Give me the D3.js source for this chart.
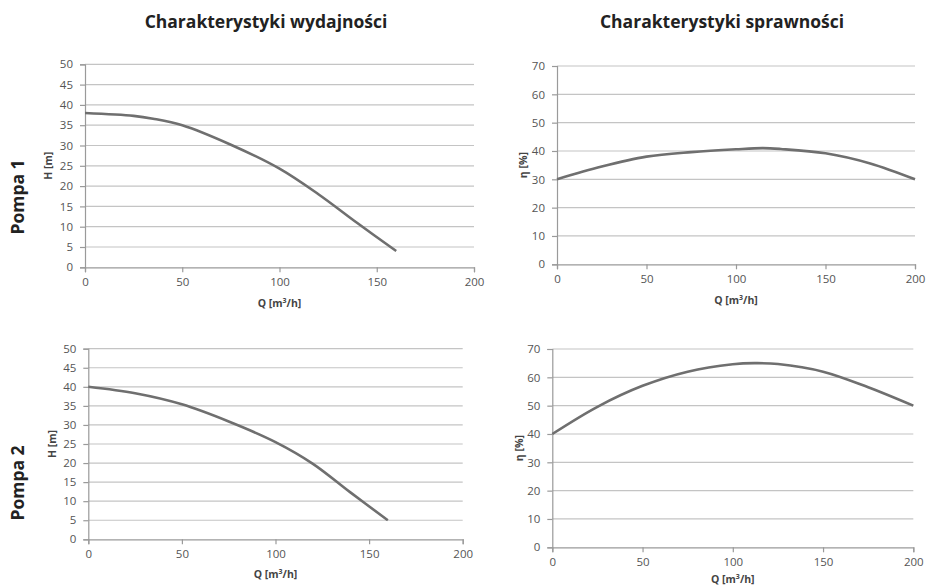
<!DOCTYPE html>
<html lang="pl">
<head>
  <meta charset="utf-8">
  <title>Charakterystyki pomp</title>
  <script src="https://d3js.org/d3.v7.min.js"></script>
  <style>
    body { margin: 0; background: #fff; }
    svg text { font-family: "Open Sans", "Liberation Sans", sans-serif; }
  </style>
</head>
<body>
<div id="chart"></div>
<script>
// values
var qTicks = [0, 50, 100, 150, 200];
var hTicks = [0, 5, 10, 15, 20, 25, 30, 35, 40, 45, 50];
var etaTicks = [0, 10, 20, 30, 40, 50, 60, 70];

var q1H = [0, 25, 35, 50, 75, 100, 120, 140, 160];
var h1 = [38, 37.3, 36.6, 35, 30.2, 24.3, 18, 10.9, 4];

var q1Eta = [0, 25, 50, 75, 100, 115, 125, 150, 175, 200];
var eta1 = [30, 34.5, 38, 39.6, 40.6, 41, 40.7, 39.2, 35.6, 30];

var q2H = [0, 25, 50, 75, 100, 120, 140, 160];
var h2 = [40, 38.3, 35.4, 30.9, 25.5, 19.8, 12.3, 5];

var q2Eta = [0, 25, 50, 75, 100, 112, 125, 150, 175, 200];
var eta2 = [40, 49.6, 57, 62, 64.6, 65, 64.7, 62, 56.5, 50];

var W = 926, H = 587;
var svg = d3.select("#chart").append("svg")
    .attr("width", W)
    .attr("height", H);

// one small chart panel
function panel(box, yMax, yTicks, xs, ys, yLabel) {
    var x = d3.scaleLinear().domain([0, 200]).range([box.left, box.right]);
    var y = d3.scaleLinear().domain([0, yMax]).range([box.bottom, box.top]);
    var g = svg.append("g");

    // grid lines
    g.selectAll(".grid").data(yTicks.filter(function(d){ return d > 0; }))
      .enter().append("line")
        .attr("x1", box.left).attr("x2", box.right)
        .attr("y1", function(d){ return y(d); })
        .attr("y2", function(d){ return y(d); })
        .attr("stroke", "#c4c4c4")
        .attr("stroke-width", 1.2);

    var yAxis = g.append("g")
        .attr("transform", "translate(" + box.left + ",0)")
        .call(d3.axisLeft(y).tickValues(yTicks).tickSize(5).tickPadding(7));
    var xAxis = g.append("g")
        .attr("transform", "translate(0," + box.bottom + ")")
        .call(d3.axisBottom(x).tickValues(qTicks).tickSize(5).tickPadding(6));

    [xAxis, yAxis].forEach(function(a) {
        a.select(".domain").attr("stroke", "#9a9a9a").attr("stroke-width", 1.2);
        a.selectAll(".tick line").attr("stroke", "#9a9a9a").attr("stroke-width", 1.2);
        a.selectAll(".tick text").attr("fill", "#555").style("font-size", "11.5px");
    });

    var pts = xs.map(function(d, i){ return [d, ys[i]]; });
    g.append("path")
        .datum(pts)
        .attr("d", d3.line()
            .x(function(d){ return x(d[0]); })
            .y(function(d){ return y(d[1]); })
            .curve(d3.curveCatmullRom.alpha(0.5)))
        .attr("fill", "none")
        .attr("stroke", "#6f6f6f")
        .attr("stroke-width", 2.6);

    // axis titles
    var xt = g.append("text")
        .attr("x", (box.left + box.right) / 2)
        .attr("y", box.xTitleY)
        .attr("text-anchor", "middle")
        .attr("fill", "#444")
        .style("font-size", "10.5px")
        .style("font-weight", "bold");
    xt.append("tspan").text("Q [m");
    xt.append("tspan").text("3").attr("baseline-shift", "super").style("font-size", "7px");
    xt.append("tspan").text("/h]");

    g.append("text")
        .attr("transform", "translate(" + box.yTitleX + "," + ((box.top + box.bottom) / 2) + ") rotate(-90)")
        .attr("text-anchor", "middle")
        .attr("fill", "#444")
        .style("font-size", "10.5px")
        .style("font-weight", "bold")
        .text(yLabel);
}

panel({left: 85, right: 474, top: 64.3, bottom: 267.3, xTitleY: 307, yTitleX: 52},
      50, hTicks, q1H, h1, "H [m]");
panel({left: 557, right: 915, top: 66, bottom: 264.3, xTitleY: 304, yTitleX: 527},
      70, etaTicks, q1Eta, eta1, "η [%]");
panel({left: 88.3, right: 462.7, top: 348.7, bottom: 539.3, xTitleY: 578, yTitleX: 56},
      50, hTicks, q2H, h2, "H [m]");
panel({left: 552.3, right: 913.3, top: 349, bottom: 547.3, xTitleY: 583, yTitleX: 523},
      70, etaTicks, q2Eta, eta2, "η [%]");

// column titles
svg.append("text").attr("x", 266).attr("y", 28).attr("text-anchor", "middle")
    .style("font-size", "17.5px").style("font-weight", "bold").attr("fill", "#222")
    .text("Charakterystyki wydajności");
svg.append("text").attr("x", 722).attr("y", 28).attr("text-anchor", "middle")
    .style("font-size", "17.5px").style("font-weight", "bold").attr("fill", "#222")
    .text("Charakterystyki sprawności");

// row titles
svg.append("text").attr("transform", "translate(24,197) rotate(-90)").attr("text-anchor", "middle")
    .style("font-size", "17.5px").style("font-weight", "bold").attr("fill", "#222")
    .text("Pompa 1");
svg.append("text").attr("transform", "translate(24,483) rotate(-90)").attr("text-anchor", "middle")
    .style("font-size", "17.5px").style("font-weight", "bold").attr("fill", "#222")
    .text("Pompa 2");
</script>
</body>
</html>
